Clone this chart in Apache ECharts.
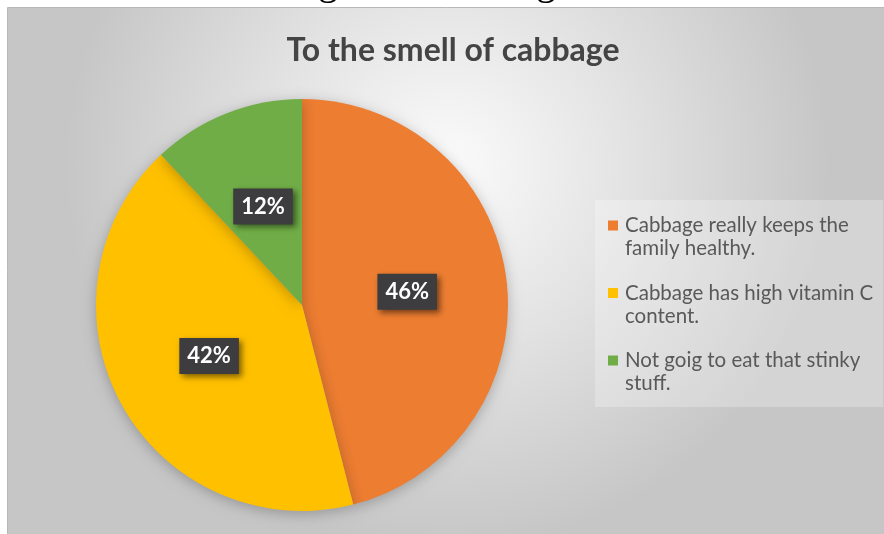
<!DOCTYPE html>
<html>
<head>
<meta charset="utf-8">
<script src="https://cdn.jsdelivr.net/npm/echarts@6/dist/echarts.min.js"></script>
<style>
html,body{margin:0;padding:0;background:#fff;}
#chart{width:884px;height:534px;}
</style>
</head>
<body>
<div id="chart"></div>
<script>
const titleText = 'To the smell of cabbage';
const categories = [
  'Cabbage really keeps the family healthy.',
  'Cabbage has high vitamin C content.',
  'Not goig to eat that stinky stuff.'
];
const legendLines = [
  ['Cabbage really keeps the', 'family healthy.'],
  ['Cabbage has high vitamin C', 'content.'],
  ['Not goig to eat that stinky', 'stuff.']
];
const values = [46, 42, 12];
const colors = ['#ED7D31', '#FFC000', '#70AD47'];

const FONT = 'Lato';
const rich = {
  t: {fontFamily: FONT, fontSize: 20.5, color: '#595959', lineHeight: 23},
  sp: {width: 17, height: 10}
};
colors.forEach((c, i) => {
  rich['sq' + i] = {width: 10, height: 10, backgroundColor: c, align: 'left'};
  rich['gap' + i] = {width: 7, height: 10};
});

const chart = echarts.init(document.getElementById('chart'), null, {renderer: 'canvas'});
chart.setOption({
  backgroundColor: '#ffffff',
  graphic: [
    {type: 'text', z: 0, silent: true, x: 318, y: -37, style: {text: 'g', font: '40px "Liberation Serif"', fill: '#000'}},
    {type: 'text', z: 0, silent: true, x: 536, y: -37, style: {text: 'g', font: '40px "Liberation Serif"', fill: '#000'}},
    {
      type: 'rect', z: 1, silent: true,
      shape: {x: 7.5, y: 7.5, width: 880, height: 530},
      style: {
        fill: {
          type: 'radial', x: 0.5, y: 0.3, r: 0.72,
          colorStops: [
            {offset: 0, color: '#fbfbfb'},
            {offset: 0.45, color: '#e4e4e4'},
            {offset: 1, color: '#c6c6c6'}
          ]
        },
        stroke: '#b8b8b8', lineWidth: 1
      }
    }
  ],
  title: {
    text: titleText,
    left: 448, top: 30, textAlign: 'center',
    textStyle: {fontFamily: FONT, fontSize: 32, fontWeight: 'bold', color: '#444444'}
  },
  legend: {
    orient: 'vertical',
    left: 595, top: 200,
    width: 285,
    padding: [15, 10, 13, 13],
    backgroundColor: 'rgba(255,255,255,0.25)',
    icon: 'none',
    itemWidth: 0, itemHeight: 10,
    itemGap: 23.5,
    data: categories,
    formatter: function (name) {
      const i = categories.indexOf(name);
      const l = legendLines[i];
      return '{sq' + i + '|}{gap' + i + '|}{t|' + l[0] + '}\n{sp|}{t|' + l[1] + '}';
    },
    textStyle: {rich: rich, padding: [0, 0, 0, -5]}
  },
  series: [{
    type: 'pie',
    center: [302, 305],
    radius: 206,
    startAngle: 90,
    clockwise: true,
    silent: true,
    data: categories.map((n, i) => ({name: n, value: values[i], itemStyle: {color: colors[i]}})),
    itemStyle: {shadowBlur: 14, shadowColor: 'rgba(0,0,0,0.25)', shadowOffsetY: 3},
    label: {
      show: true,
      position: 'inside',
      formatter: '{d}%',
      fontFamily: FONT,
      fontWeight: 'bold',
      fontSize: 22,
      color: '#ffffff',
      backgroundColor: '#3d3d3f',
      padding: [8, 8, 6, 8],
      shadowColor: 'rgba(0,0,0,0.5)',
      shadowBlur: 6,
      shadowOffsetX: 3,
      shadowOffsetY: 3
    },
    labelLine: {show: false}
  }]
});
</script>
</body>
</html>
